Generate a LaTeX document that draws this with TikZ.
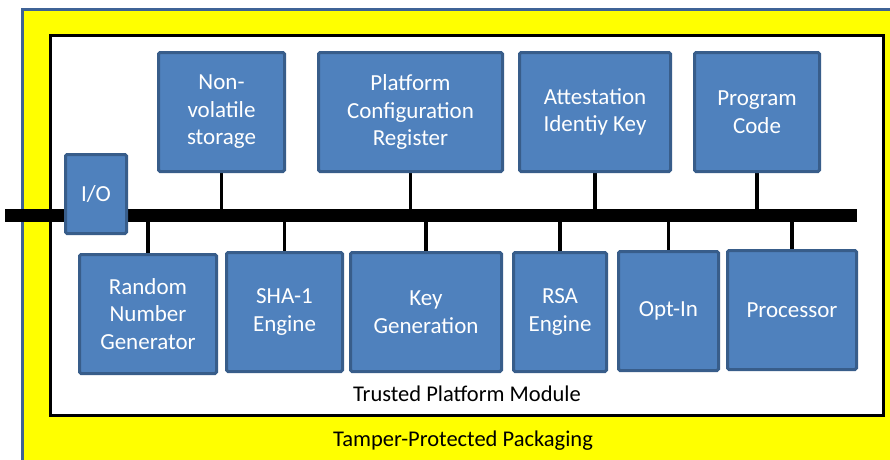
\documentclass[tikz,border=0pt]{standalone}
\usepackage{fontspec}
\setmainfont{Carlito}
\definecolor{boxfill}{HTML}{4F81BD}
\definecolor{boxline}{HTML}{385D8A}
\definecolor{pkgline}{HTML}{3F6396}
\definecolor{pkgfill}{HTML}{FFFF00}
\pgfdeclarelayer{pkg}
\pgfdeclarelayer{wires}
\pgfsetlayers{pkg,wires,main}
\tikzset{
  blk/.style={draw=boxline, fill=boxfill, line width=3pt, rounded corners=1.5pt,
    text=white, align=center, inner sep=0pt, minimum height=119pt,
    font=\fontsize{23}{27.5}\selectfont},
  wire/.style={draw=black, line width=3.5pt},
  busline/.style={draw=black, line width=13pt},
  lbl/.style={font=\fontsize{22.5}{27}\selectfont, text=black, inner sep=0pt}
}
\begin{document}
\begin{tikzpicture}[x=1pt,y=-1pt]
\useasboundingbox (0,0) rectangle (890,459);
\clip (0,0) rectangle (890,459);
\begin{pgfonlayer}{pkg}
\fill[white] (0,0) rectangle (890,459);
\draw[draw=pkgline, fill=pkgfill, line width=3pt] (22.5,9.5) rectangle (905,480);
\draw[draw=black, fill=white, line width=3.5pt] (50.5,35.5) rectangle (883.5,415.5);
\end{pgfonlayer}
\node[lbl] (tpmlbl) at (467,394) {Trusted Platform Module};
\node[lbl] (pkglbl) at (463,441) {Tamper-Protected Packaging};
% bus ends
\coordinate (busL) at (5,215.5);
\coordinate (busR) at (857,215.5);
% blocks
\node[blk, minimum width=126pt] (nvs) at (221.5,112) {Non-\\volatile\\storage};
\node[blk, minimum width=184pt] (pcr) at (410.5,112) {Platform\\Configuration\\Register};
\node[blk, minimum width=151pt] (aik) at (595,112) {Attestation\\Identiy Key};
\node[blk, minimum width=125pt] (pc) at (757,112) {Program\\Code};
\node[blk, minimum width=137pt] (rng) at (148,314) {Random\\Number\\Generator};
\node[blk, minimum width=116pt] (sha) at (284.5,312) {SHA-1\\Engine};
\node[blk, minimum width=151pt] (kg) at (426,312) {Key\\Generation};
\node[blk, minimum width=93pt] (rsa) at (560,312) {RSA\\Engine};
\node[blk, minimum width=100pt] (opt) at (668.5,311) {Opt-In};
\node[blk, minimum width=129pt] (proc) at (792,310) {Processor};
\node[blk, minimum width=61pt, minimum height=79pt] (io) at (96,194) {I/O};
% connectors and bus (behind blocks)
\begin{pgfonlayer}{wires}
\foreach \n in {nvs,pcr,aik,pc,rng,sha,kg,rsa,opt,proc}{
  \draw[wire] (\n.center) -- (\n.center |- busL);
}
\draw[busline] (busL) -- (busR);
\end{pgfonlayer}
\end{tikzpicture}
\end{document}
